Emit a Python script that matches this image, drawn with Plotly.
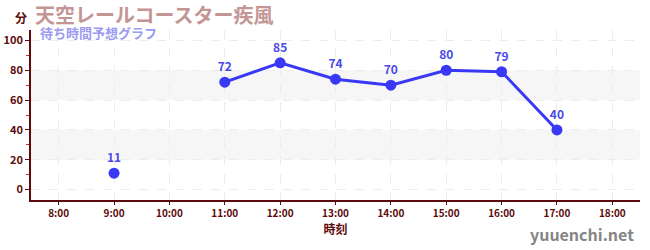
import plotly.graph_objects as go

# Wait-time forecast data (hour of day -> minutes)
hours = [9, 10, 11, 12, 13, 14, 15, 16, 17]
wait_minutes = [11, None, 72, 85, 74, 70, 80, 79, 40]
tick_hours = [8, 9, 10, 11, 12, 13, 14, 15, 16, 17, 18]
tick_labels = [f"{h}:00" for h in tick_hours]
y_ticks = [0, 20, 40, 60, 80, 100]
bands = [(20, 40), (60, 80)]

title_text = "天空レールコースター疾風"
subtitle_text = "待ち時間予想グラフ"
font_jp = "Noto Sans CJK JP"
axis_color = "#5c0a0a"

fig = go.Figure()

fig.add_trace(go.Scatter(
    x=hours,
    y=wait_minutes,
    mode="lines+markers+text",
    connectgaps=False,
    line=dict(color="#3838f5", width=3),
    marker=dict(color="#3838f5", size=11),
    text=[("" if v is None else str(v)) for v in wait_minutes],
    textposition="top center",
    textfont=dict(family=font_jp, size=12, color="#4a4ae8", weight="bold"),
    hoverinfo="skip",
))

shapes = []
for lo, hi in bands:
    shapes.append(dict(
        type="rect", xref="paper", yref="y", x0=0, x1=1, y0=lo, y1=hi,
        fillcolor="#f6f6f6", line=dict(width=0), layer="below",
    ))

fig.update_layout(
    width=650, height=250,
    margin=dict(l=31, r=10, t=30, b=50),
    paper_bgcolor="white",
    plot_bgcolor="white",
    showlegend=False,
    shapes=shapes,
    font=dict(family=font_jp, color=axis_color),
    annotations=[
        dict(text=title_text, xref="paper", yref="paper", x=0.0, y=1.0,
             xshift=2, yshift=16, xanchor="left", yanchor="middle", showarrow=False,
             font=dict(family=font_jp, size=20, color="#c49595", weight="bold")),
        dict(text=subtitle_text, xref="paper", yref="paper", x=0.0, y=1.0,
             xshift=7, yshift=-2, xanchor="left", yanchor="middle", showarrow=False,
             font=dict(family=font_jp, size=13, color="#9b9bf2", weight="bold")),
        dict(text="分", xref="paper", yref="paper", x=0.0, y=1.0,
             xshift=-10, yshift=13, xanchor="center", yanchor="middle", showarrow=False,
             font=dict(family=font_jp, size=12, color=axis_color, weight="bold")),
        dict(text="yuuenchi.net", xref="paper", yref="paper", x=1.0, y=0.0,
             xshift=-4, yshift=-34, xanchor="right", yanchor="middle", showarrow=False,
             font=dict(family=font_jp, size=16, color="#858585", weight="bold")),
    ],
)

fig.update_xaxes(
    range=[7.5, 18.5],
    automargin=False,
    tickvals=tick_hours,
    ticktext=tick_labels,
    tickfont=dict(family=font_jp, size=10, color=axis_color, weight="bold"),
    showline=True, linecolor=axis_color, linewidth=1.5,
    ticks="outside", ticklen=3, tickcolor=axis_color,
    showgrid=True, gridcolor="#ececec", griddash="dash", gridwidth=1,
    zeroline=False,
    title=dict(text="時刻", font=dict(family=font_jp, size=12, color=axis_color, weight="bold"), standoff=6),
)

fig.update_yaxes(
    range=[-7, 107],
    automargin=False,
    tickvals=y_ticks,
    tickfont=dict(family=font_jp, size=11, color=axis_color, weight="bold"),
    showline=True, linecolor=axis_color, linewidth=1.5,
    ticks="outside", ticklen=4, tickcolor=axis_color,
    minor=dict(tickvals=[10, 30, 50, 70, 90], ticks="outside", ticklen=3, tickcolor="#e02020", showgrid=False),
    showgrid=True, gridcolor="#ececec", griddash="dash", gridwidth=1,
    zeroline=False,
)

fig.write_html("out.html")
